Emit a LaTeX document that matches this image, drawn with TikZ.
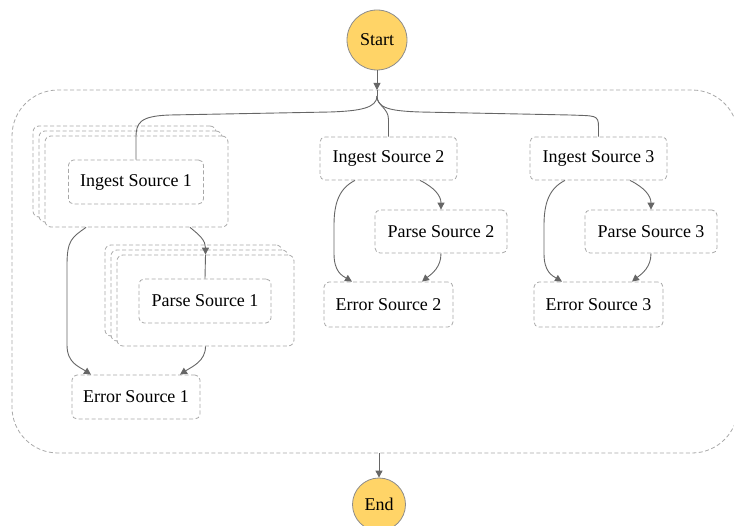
\documentclass[tikz,border=0pt]{standalone}
\usepackage{fontspec}
\setmainfont{Liberation Serif}
\usetikzlibrary{arrows.meta,calc}
\definecolor{stateborder}{HTML}{A8A8A8}
\definecolor{edgegray}{HTML}{666666}
\definecolor{termfill}{HTML}{FFD467}
\definecolor{termborder}{HTML}{8C8C8C}
\begin{document}
\begin{tikzpicture}[x=1pt,y=-1pt,
  dashline/.style={draw=stateborder, line width=0.8pt, dash pattern=on 4pt off 2.5pt},
  state/.style={dashline, rounded corners=5pt, fill=white, inner sep=0pt,
    minimum height=44pt, font=\fontsize{18}{20}\selectfont},
  mapbox/.style={dashline, rounded corners=6pt, fill=white, inner sep=0pt,
    minimum height=91pt},
  term/.style={circle, draw=termborder, fill=termfill, line width=0.8pt,
    inner sep=0pt, minimum size=60pt, font=\fontsize{18}{20}\selectfont},
  flow/.style={draw=edgegray, line width=0.9pt},
  arr/.style={flow, -{Triangle[length=7pt,width=7pt]}},
]
\useasboundingbox (0,0) rectangle (734,526);
\clip (0,0) rectangle (734,526);

% parallel container (its right side lies past the page edge)
\coordinate (partop) at (377,90);
\coordinate (parbot) at (377,453);
\draw[dashline, rounded corners=46pt] (738,200) -- (738,90) -- (12,90) -- (12,453) -- (738,453) -- (738,380);

% terminals
\node[term] (start) at (377,40) {Start};
\node[term, minimum size=53pt] (end) at (379,504.5) {End};

% branch 1: stacked map boxes
\node[mapbox, minimum width=183pt] (ing1back) at (124.5,171.5) {};
\node[mapbox, minimum width=183pt] (ing1mid)  at (130.5,176.5) {};
\node[mapbox, minimum width=183pt] (ing1grp)  at (136.5,181.5) {};
\node[state, minimum width=135pt] (ing1) at (136,182) {Ingest Source 1};

\node[mapbox, minimum width=177pt] (prs1back) at (193.5,290.5) {};
\node[mapbox, minimum width=177pt] (prs1mid)  at (199.5,295.5) {};
\node[mapbox, minimum width=177pt] (prs1grp)  at (205.5,300.5) {};
\node[state, minimum width=132pt] (prs1) at (205,301) {Parse Source 1};

\node[state, minimum width=128pt] (err1) at (136,397) {Error Source 1};

% branches 2 and 3
\node[state, minimum width=137pt, minimum height=43pt] (ing2) at (388.5,158.5) {Ingest Source 2};
\node[state, minimum width=132pt, minimum height=43pt] (prs2) at (441,231.5) {Parse Source 2};
\node[state, minimum width=129pt, minimum height=45pt] (err2) at (388.5,304.5) {Error Source 2};

\node[state, minimum width=137pt, minimum height=43pt] (ing3) at (598.5,158.5) {Ingest Source 3};
\node[state, minimum width=132pt, minimum height=43pt] (prs3) at (651,231.5) {Parse Source 3};
\node[state, minimum width=129pt, minimum height=45pt] (err3) at (598.5,304.5) {Error Source 3};

% entry into the parallel state and fan-out
\coordinate (join) at (start.south |- partop);
\coordinate (fork) at ($(join)+(0,6)$);
\draw[arr] (start) -- (join);
\draw[flow] (join) -- (fork);
\draw[flow] (fork) .. controls +(0,12) and +(30,-1) .. (330,112) -- (170,115)
  .. controls +(-30,1) and +(0,-15) .. ($(ing1.north)+(0,-22)$) -- (ing1.north);
\draw[flow] (fork) .. controls +(0,10) and +(0,-12) .. ($(ing2.north)+(0,-17)$) -- (ing2.north);
\draw[flow] (fork) .. controls +(0,12) and +(-30,-1) .. (420,112) -- (570,115)
  .. controls +(25,1) and +(0,-12) .. ($(ing3.north)+(0,-10)$) -- (ing3.north);

% branch 1 edges
\draw[arr] ($(ing1grp.south)+(-50.5,0)$) .. controls +(-14,10) and +(0,-25) .. (67,265)
  -- (67,345) .. controls +(0,18) and +(-12,-8) .. ($(err1.north)+(-45,0)$);
\draw[arr] ($(ing1grp.south)+(53.5,0)$) .. controls +(10,8) and +(0,-14) .. (prs1grp.north);
\draw[flow] (prs1grp.north) -- (prs1.north);
\draw[arr] (prs1grp.south) .. controls +(0,15) and +(12,-8) .. ($(err1.north)+(44,0)$);

% branches 2 and 3 edges
\foreach \i in {2,3} {
  \draw[arr] ($(ing\i.south)+(-33.5,0)$) .. controls +(-16,8) and +(0,-22) .. ($(ing\i.south)+(-54.5,45)$)
    -- ($(err\i.north)+(-54.5,-28)$) .. controls +(0,18) and +(-10,-6) .. ($(err\i.north)+(-36.5,0)$);
  \draw[arr] ($(ing\i.south)+(31.5,0)$) .. controls +(14,7) and +(0,-14) .. (prs\i.north);
  \draw[arr] (prs\i.south) .. controls +(0,14) and +(10,-8) .. ($(err\i.north)+(33.5,0)$);
}

% exit of the parallel state
\coordinate (leave) at (end.north |- parbot);
\draw[arr] (leave) -- (end);
\end{tikzpicture}
\end{document}
